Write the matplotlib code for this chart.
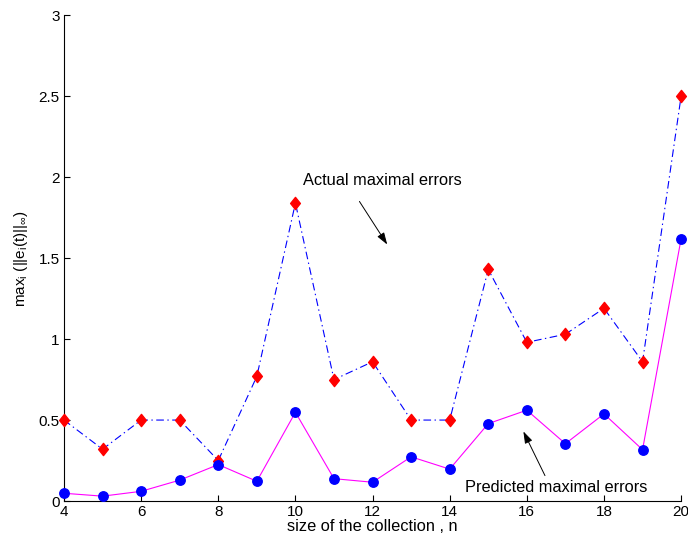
import numpy as np
import matplotlib
matplotlib.use("Agg")
import matplotlib.pyplot as plt
from matplotlib.path import Path

plt.rcParams['font.family'] = ['Liberation Sans', 'DejaVu Sans']
plt.rcParams['mathtext.fontset'] = 'custom'
plt.rcParams['mathtext.rm'] = 'Liberation Sans'
plt.rcParams['mathtext.it'] = 'Liberation Sans:italic'
plt.rcParams['lines.scale_dashes'] = False

# collection sizes and the two error series
n = np.arange(4, 21)
actual = [0.50, 0.32, 0.50, 0.50, 0.25, 0.77, 1.84, 0.75, 0.86, 0.50,
          0.50, 1.43, 0.98, 1.03, 1.19, 0.86, 2.50]
predicted = [0.048, 0.030, 0.060, 0.129, 0.225, 0.122, 0.548, 0.138, 0.116,
             0.273, 0.197, 0.478, 0.561, 0.354, 0.538, 0.317, 1.62]

xticks = [4, 6, 8, 10, 12, 14, 16, 18, 20]
yticks = [0, 0.5, 1, 1.5, 2, 2.5, 3]
yticklabels = ['0', '0.5', '1', '1.5', '2', '2.5', '3']

# matlab-style diamond, a bit taller than wide
diamond = Path([(0, 1), (0.8, 0), (0, -1), (-0.8, 0), (0, 1)],
               [Path.MOVETO, Path.LINETO, Path.LINETO, Path.LINETO, Path.CLOSEPOLY])

fig = plt.figure(figsize=(6.88, 5.44), dpi=100)
ax = fig.add_axes([0.093, 0.079, 0.897, 0.893])

ax.plot(n, actual, color='#0000ff', lw=0.8, dashes=[5.5, 2.5, 1, 2.5])
ax.plot(n, actual, ls='none', marker=diamond, ms=8.8, mfc='red', mec='red',
        clip_on=False, zorder=3)
ax.plot(n, predicted, color='#ff00ff', lw=0.8, marker='o', ms=6.8,
        mfc='blue', mec='blue', clip_on=False, zorder=3)

ax.set_xlim(4, 20)
ax.set_ylim(0, 3)
ax.set_xticks(xticks)
ax.set_yticks(yticks)
ax.set_yticklabels(yticklabels)
ax.tick_params(direction='in', length=4.3, width=0.8, labelsize=11, pad=3)
ax.spines['top'].set_visible(False)
ax.spines['right'].set_visible(False)

ax.set_xlabel('size of the collection , n', fontsize=11.8, va='baseline')
ax.xaxis.set_label_coords(0.5, -0.062)
ax.set_ylabel(r'max$_\mathrm{i}$ (||e$_\mathrm{i}$(t)||$_\infty$)', fontsize=11, va='center')
ax.yaxis.set_label_coords(-0.07, 0.5)

ax.text(10.19, 1.98, 'Actual maximal errors', fontsize=11.8, va='center')
ax.annotate('', xy=(12.38, 1.584), xytext=(11.66, 1.85),
            arrowprops=dict(arrowstyle='-|>,head_length=0.6,head_width=0.2',
                            color='black', lw=0.7,
                            mutation_scale=12, shrinkA=0, shrinkB=0))
ax.text(14.39, 0.085, 'Predicted maximal errors', fontsize=11.8, va='center')
ax.annotate('', xy=(15.91, 0.43), xytext=(16.47, 0.157),
            arrowprops=dict(arrowstyle='-|>,head_length=0.6,head_width=0.2',
                            color='black', lw=0.7,
                            mutation_scale=12, shrinkA=0, shrinkB=0))

fig.savefig('out.png', dpi=100)
